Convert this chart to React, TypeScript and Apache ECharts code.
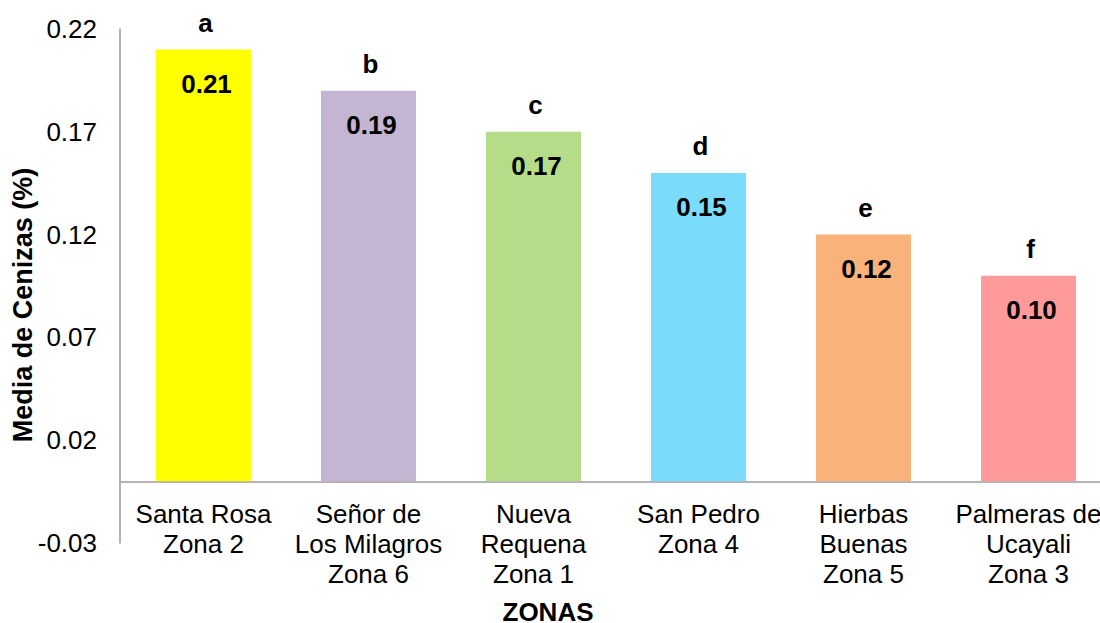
import React, { useEffect, useRef } from "react";
import * as echarts from "echarts";

// Zones sampled and their mean ash content
const zonas = [
  "Santa Rosa\nZona 2",
  "Señor de\nLos Milagros\nZona 6",
  "Nueva\nRequena\nZona 1",
  "San Pedro\nZona 4",
  "Hierbas\nBuenas\nZona 5",
  "Palmeras de\nUcayali\nZona 3",
];
const mediaCenizas = [0.21, 0.19, 0.17, 0.15, 0.12, 0.1];
const letrasGrupo = ["a", "b", "c", "d", "e", "f"];
const coloresBarra = ["#FFFF00", "#C4B5D3", "#B5DD89", "#7BDBFB", "#F8B27A", "#FE9A9A"];
const yTicks = [-0.03, 0.02, 0.07, 0.12, 0.17, 0.22];

const FONT = '"Liberation Sans", Arial, Helvetica, sans-serif';
const AXIS_GRAY = "#9a9a9a";

export default function App() {
  const ref = useRef<HTMLDivElement>(null);

  useEffect(() => {
    if (!ref.current) return;
    const chart = echarts.init(ref.current, null, { renderer: "svg" });

    const option = {
      animation: false,
      backgroundColor: "#ffffff",
      textStyle: { fontFamily: FONT },
      grid: {
        left: 121,
        top: 29,
        width: 990,
        height: 514,
        containLabel: false,
        outerBoundsMode: "none",
      },
      xAxis: {
        type: "category",
        data: zonas,
        axisLine: { show: true, onZero: true, lineStyle: { color: AXIS_GRAY, width: 1.5 } },
        axisTick: { show: false },
        splitLine: { show: false },
        axisLabel: {
          interval: 0,
          // labels hang just under the zero line rather than under the grid's bottom edge
          margin: -44,
          color: "#000",
          fontFamily: FONT,
          fontSize: 26,
          lineHeight: 30,
          align: "center",
          hideOverlap: false,
        },
      },
      yAxis: {
        type: "value",
        min: -0.03,
        max: 0.22,
        offset: 1,
        axisLine: { show: true, lineStyle: { color: AXIS_GRAY, width: 1.5 } },
        axisTick: { show: false },
        splitLine: { show: false },
        axisLabel: {
          customValues: yTicks,
          margin: 23,
          color: "#000",
          fontFamily: FONT,
          fontSize: 26,
          formatter: (v: number) => v.toFixed(2),
        },
      },
      graphic: [
        {
          type: "text",
          x: 23,
          y: 305,
          rotation: Math.PI / 2,
          style: {
            text: "Media de Cenizas (%)",
            font: `bold 27px ${FONT}`,
            fill: "#000",
            align: "center",
            verticalAlign: "middle",
          },
        },
        {
          type: "text",
          x: 548,
          y: 612,
          style: {
            text: "ZONAS",
            font: `bold 26px ${FONT}`,
            fill: "#000",
            align: "center",
            verticalAlign: "middle",
          },
        },
      ],
      series: [
        {
          type: "bar",
          barWidth: 95,
          data: mediaCenizas.map((v, i) => ({ value: v, itemStyle: { color: coloresBarra[i] } })),
          label: {
            show: true,
            position: ["50%", 34],
            offset: [3, 0],
            align: "center",
            verticalAlign: "middle",
            color: "#000",
            fontFamily: FONT,
            fontSize: 26,
            fontWeight: "bold",
            formatter: (p: any) => Number(p.value).toFixed(2),
          },
        },
        {
          // significance letters above each bar
          type: "bar",
          barWidth: 95,
          barGap: "-100%",
          silent: true,
          data: mediaCenizas,
          itemStyle: { color: "rgba(0,0,0,0)" },
          label: {
            show: true,
            position: ["50%", -27],
            offset: [2, 0],
            align: "center",
            verticalAlign: "middle",
            color: "#000",
            fontFamily: FONT,
            fontSize: 26,
            fontWeight: "bold",
            formatter: (p: any) => letrasGrupo[p.dataIndex],
          },
        },
      ],
    };

    chart.setOption(option as any);
    return () => chart.dispose();
  }, []);

  return (
    <div
      ref={ref}
      style={{ position: "absolute", left: 0, top: 0, width: 1100, height: 623, background: "#fff" }}
    />
  );
}
